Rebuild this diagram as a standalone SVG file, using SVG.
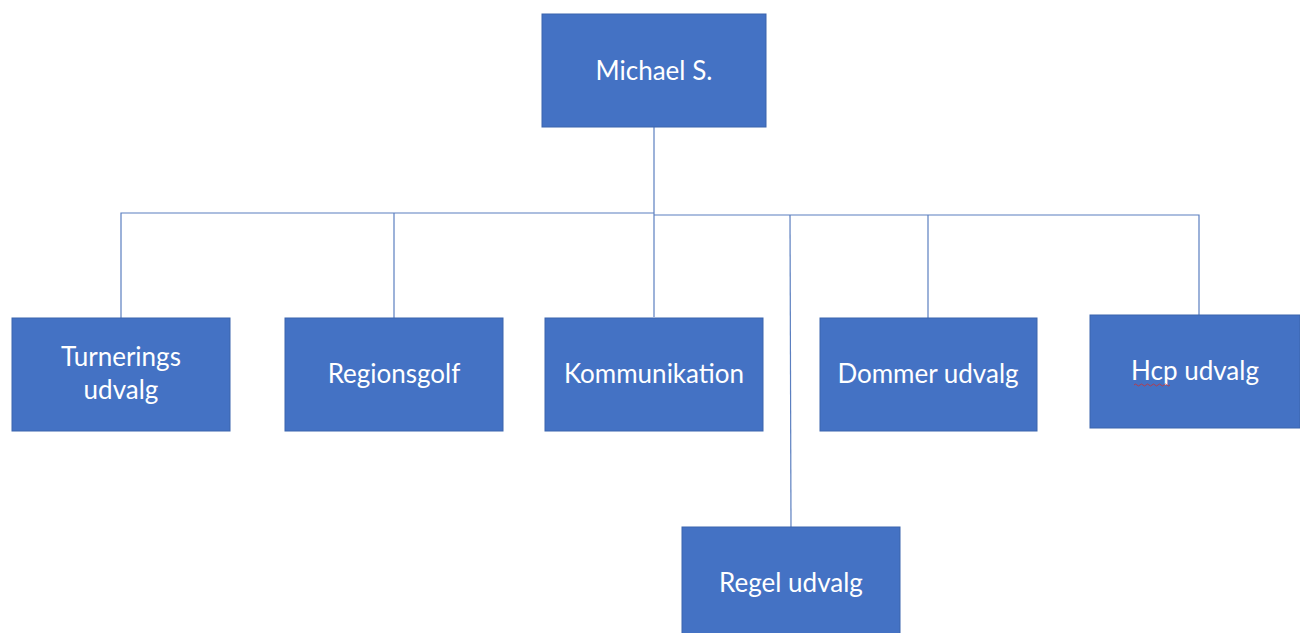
<svg xmlns="http://www.w3.org/2000/svg" width="1300" height="633" viewBox="0 0 1300 633">
<style>
.box{fill:#4472C4;stroke:#3B64AD;stroke-width:1}
.lbl{fill:#FFFFFF;font-family:Lato,"Liberation Sans",sans-serif;font-size:26px;text-anchor:middle}
.con{stroke:#5B7FC0;stroke-width:1.2;fill:none}
</style>
<rect width="1300" height="633" fill="#FFFFFF"/>
<g id="connectors">
<path class="con" d="M654 127 V317"/>
<path class="con" d="M121 318 V213 H654"/>
<path class="con" d="M394 318 V213"/>
<path class="con" d="M654 215 H1199 V315"/>
<path class="con" d="M790 215 L791 527"/>
<path class="con" d="M928 215 V318"/>
</g>
<g id="michael"><rect class="box" x="542" y="14" width="224" height="113"/><text class="lbl" x="654" y="80">Michael S.</text></g>
<g id="turnerings"><rect class="box" x="12" y="318" width="218" height="113"/><text class="lbl" x="121" y="366">Turnerings</text><text class="lbl" x="121" y="399">udvalg</text></g>
<g id="regionsgolf"><rect class="box" x="285" y="318" width="218" height="113"/><text class="lbl" x="394" y="383">Regionsgolf</text></g>
<g id="kommunikation"><rect class="box" x="545" y="318" width="218" height="113"/><text class="lbl" x="654" y="383">Kommunikation</text></g>
<g id="dommer"><rect class="box" x="820" y="318" width="217" height="113"/><text class="lbl" x="928" y="383">Dommer udvalg</text></g>
<g id="hcp"><rect class="box" x="1090" y="315" width="210" height="113"/><text class="lbl" x="1195" y="380">Hcp udvalg</text><path d="M1134 385 q1.5 -2 3 0 t3 0 t3 0 t3 0 t3 0 t3 0 t3 0 t3 0 t3 0 t3 0 t3 0 t3 0" fill="none" stroke="#D03030" stroke-width="0.8"/></g>
<g id="regel"><rect class="box" x="682" y="527" width="218" height="110"/><text class="lbl" x="791" y="592">Regel udvalg</text></g>
</svg>
